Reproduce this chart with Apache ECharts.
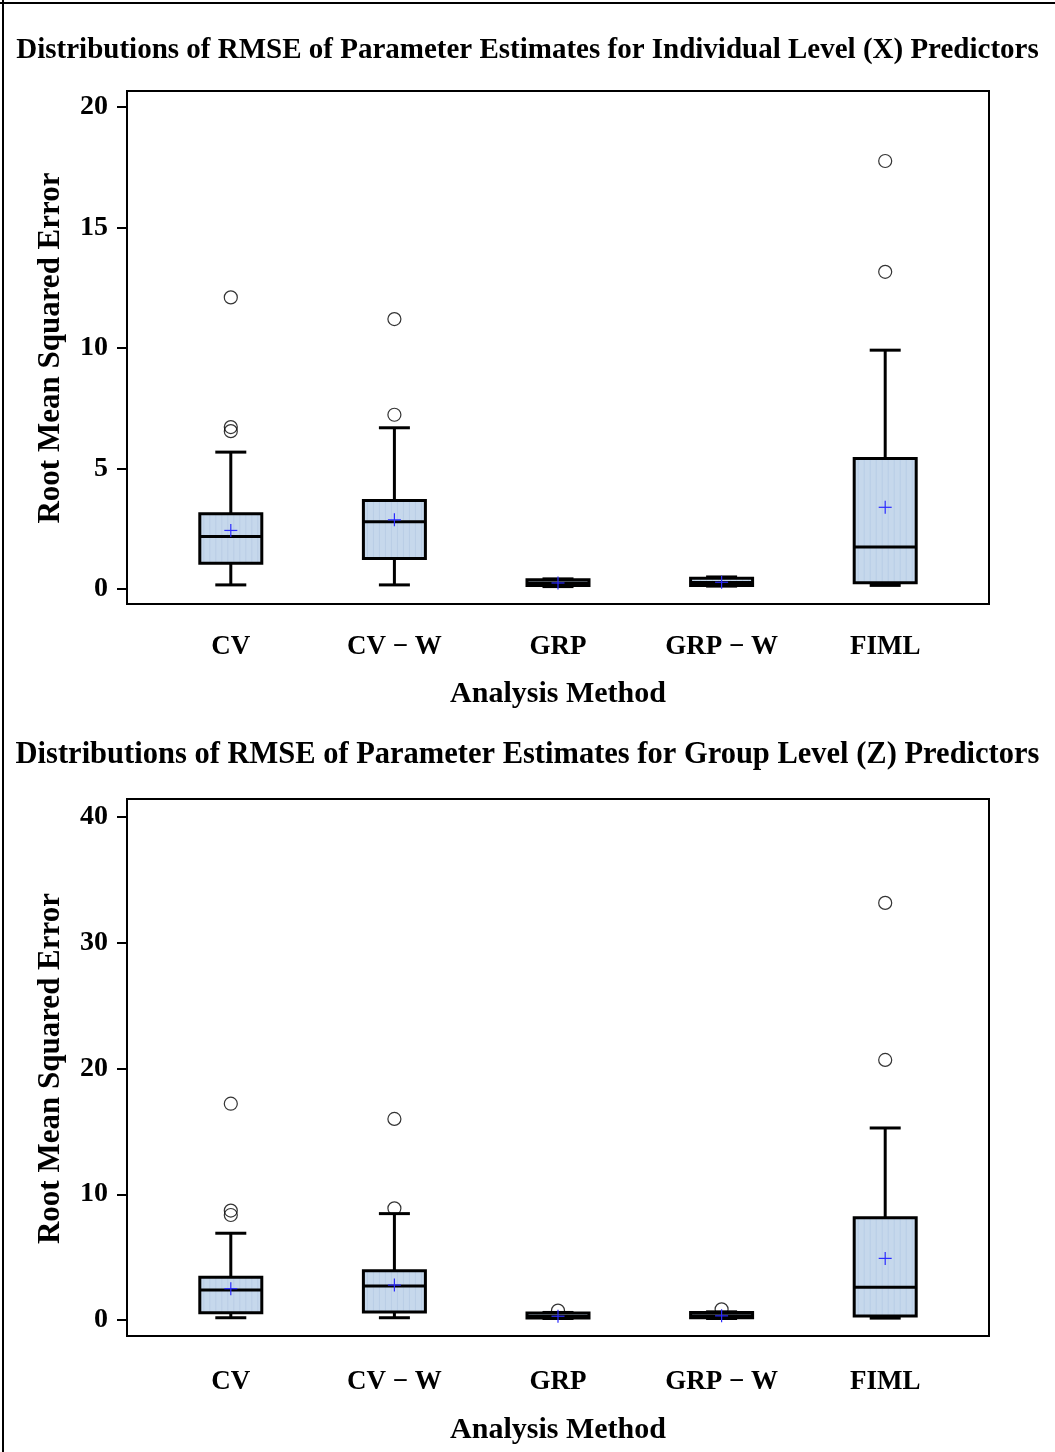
<!DOCTYPE html>
<html>
<head>
<meta charset="utf-8">
<script src="https://cdn.jsdelivr.net/npm/echarts@6/dist/echarts.min.js"></script>
<style>
html, body { margin: 0; padding: 0; background: #fff; }
#chart { width: 1055px; height: 1452px; }
</style>
</head>
<body>
<div id="chart"></div>
<script>
const methods = ['CV', 'CV − W', 'GRP', 'GRP − W', 'FIML'];

// individual level (X) predictors
const xLow  = [0.17, 0.17, 0.10, 0.12, 0.15];
const xQ1   = [1.07, 1.27, 0.15, 0.15, 0.26];
const xMed  = [2.18, 2.79, 0.25, 0.27, 1.74];
const xQ3   = [3.12, 3.67, 0.38, 0.45, 5.42];
const xHigh = [5.68, 6.69, 0.42, 0.50, 9.91];
const xMean = [2.43, 2.87, 0.25, 0.28, 3.39];
const xOutliers = [[0, 6.55], [0, 6.72], [0, 12.1], [1, 7.23], [1, 11.2], [4, 13.16], [4, 17.76]];
const xTicks = { min: 0, max: 20, interval: 5 };

// group level (Z) predictors
const zLow  = [0.18, 0.18, 0.12, 0.12, 0.15];
const zQ1   = [0.58, 0.64, 0.15, 0.18, 0.32];
const zMed  = [2.39, 2.70, 0.30, 0.33, 2.60];
const zQ3   = [3.40, 3.92, 0.55, 0.60, 8.14];
const zHigh = [6.90, 8.46, 0.60, 0.65, 15.27];
const zMean = [2.49, 2.78, 0.30, 0.33, 4.90];
const zOutliers = [[0, 8.35], [0, 8.7], [0, 17.2], [1, 8.88], [1, 15.99], [2, 0.75], [3, 0.85], [4, 20.68], [4, 33.17]];
const zTicks = { min: 0, max: 40, interval: 10 };

const FONT = 'Liberation Serif';
const BOX_FILL = '#c6d8ec';

function renderBox(params, api) {
  const cx = api.coord([api.value(0), 0])[0];
  const py = k => api.coord([api.value(0), api.value(k)])[1];
  const lo = py(1), q1 = py(2), md = py(3), q3 = py(4), hi = py(5), mn = py(6);
  const boxHalf = 31, capHalf = 15.5, plus = 6.5;
  const line = (x1, y1, x2, y2, color, w) => ({
    type: 'line', shape: { x1, y1, x2, y2 }, style: { stroke: color, lineWidth: w }
  });
  const children = [
    line(cx, lo, cx, q1, '#000', 3),
    line(cx, q3, cx, hi, '#000', 3),
    line(cx - capHalf, lo, cx + capHalf, lo, '#000', 3),
    line(cx - capHalf, hi, cx + capHalf, hi, '#000', 3),
    { type: 'rect', shape: { x: cx - boxHalf, y: q3, width: boxHalf * 2, height: q1 - q3 },
      style: { fill: BOX_FILL, stroke: null } }
  ];
  // faint vertical stripes in the box fill
  for (let sx = cx - boxHalf + 4; sx < cx + boxHalf - 2; sx += 6) {
    children.push(line(sx, q3, sx, q1, '#b9cde6', 1));
  }
  children.push(
    { type: 'rect', shape: { x: cx - boxHalf, y: q3, width: boxHalf * 2, height: q1 - q3 },
      style: { fill: null, stroke: '#000', lineWidth: 3 } },
    line(cx - boxHalf, md, cx + boxHalf, md, '#000', 3),
    line(cx - plus, mn, cx + plus, mn, '#2b2bff', 1.2),
    line(cx, mn - plus, cx, mn + plus, '#2b2bff', 1.2)
  );
  return { type: 'group', children };
}

function boxData(low, q1, med, q3, high, mean) {
  return methods.map((m, i) => [i, low[i], q1[i], med[i], q3[i], high[i], mean[i]]);
}

const labelStyle = { fontFamily: FONT, fontWeight: 'bold', color: '#000' };

function frameAxes(idx) {
  return {
    x: { type: 'value', gridIndex: idx, show: false },
    y: { type: 'value', gridIndex: idx, show: false }
  };
}

function dataXAxis(idx, labelMargin, nameGap) {
  return {
    type: 'category', gridIndex: idx, data: methods, boundaryGap: true, offset: 15,
    axisLine: { show: false },
    axisTick: { alignWithLabel: true, length: 9, lineStyle: { color: '#000', width: 2 } },
    axisLabel: Object.assign({ fontSize: 27, margin: labelMargin }, labelStyle),
    name: 'Analysis Method', nameLocation: 'middle', nameGap: nameGap,
    nameTextStyle: Object.assign({ fontSize: 30 }, labelStyle)
  };
}

function dataYAxis(idx, ticks) {
  return {
    type: 'value', gridIndex: idx, min: ticks.min, max: ticks.max, interval: ticks.interval, offset: 22,
    axisLine: { show: false },
    axisTick: { show: true, length: 10, lineStyle: { color: '#000', width: 2 } },
    axisLabel: Object.assign({ fontSize: 28, margin: 19 }, labelStyle),
    splitLine: { show: false },
    name: 'Root Mean Squared Error', nameLocation: 'middle', nameGap: 61,
    nameTextStyle: Object.assign({ fontSize: 31 }, labelStyle)
  };
}

const f0 = frameAxes(0), f2 = frameAxes(2);

const option = {
  backgroundColor: '#fff',
  animation: false,
  title: [
    { text: 'Distributions of RMSE of Parameter Estimates for Individual Level (X) Predictors',
      left: 'center', top: 31, textStyle: Object.assign({ fontSize: 29 }, labelStyle) },
    { text: 'Distributions of RMSE of Parameter Estimates for Group Level (Z) Predictors',
      left: 'center', top: 735, textStyle: Object.assign({ fontSize: 30.5 }, labelStyle) }
  ],
  graphic: [
    { type: 'line', shape: { x1: 0, y1: 3, x2: 1055, y2: 3 }, style: { stroke: '#000', lineWidth: 2 } },
    { type: 'line', shape: { x1: 3, y1: 0, x2: 3, y2: 1452 }, style: { stroke: '#000', lineWidth: 2 } }
  ],
  grid: [
    { left: 127, top: 91, width: 862, height: 513, show: true, borderColor: '#000', borderWidth: 2, backgroundColor: 'transparent' },
    { left: 149, top: 107, width: 818, height: 482 },
    { left: 127, top: 799, width: 862, height: 537, show: true, borderColor: '#000', borderWidth: 2, backgroundColor: 'transparent' },
    { left: 149, top: 817, width: 818, height: 503 }
  ],
  xAxis: [f0.x, dataXAxis(1, 30, 75), f2.x, dataXAxis(3, 34, 80)],
  yAxis: [f0.y, dataYAxis(1, xTicks), f2.y, dataYAxis(3, zTicks)],
  series: [
    { type: 'scatter', xAxisIndex: 1, yAxisIndex: 1, data: xOutliers, symbol: 'circle', symbolSize: 13,
      itemStyle: { color: 'rgba(0,0,0,0)', borderColor: '#000', borderWidth: 1.2 }, z: 1 },
    { type: 'custom', xAxisIndex: 1, yAxisIndex: 1, renderItem: renderBox,
      data: boxData(xLow, xQ1, xMed, xQ3, xHigh, xMean), encode: { x: 0, y: [1, 2, 3, 4, 5, 6] }, z: 2 },
    { type: 'scatter', xAxisIndex: 3, yAxisIndex: 3, data: zOutliers, symbol: 'circle', symbolSize: 13,
      itemStyle: { color: 'rgba(0,0,0,0)', borderColor: '#000', borderWidth: 1.2 }, z: 1 },
    { type: 'custom', xAxisIndex: 3, yAxisIndex: 3, renderItem: renderBox,
      data: boxData(zLow, zQ1, zMed, zQ3, zHigh, zMean), encode: { x: 0, y: [1, 2, 3, 4, 5, 6] }, z: 2 }
  ]
};

const myChart = echarts.init(document.getElementById('chart'));
myChart.setOption(option);
</script>
</body>
</html>
